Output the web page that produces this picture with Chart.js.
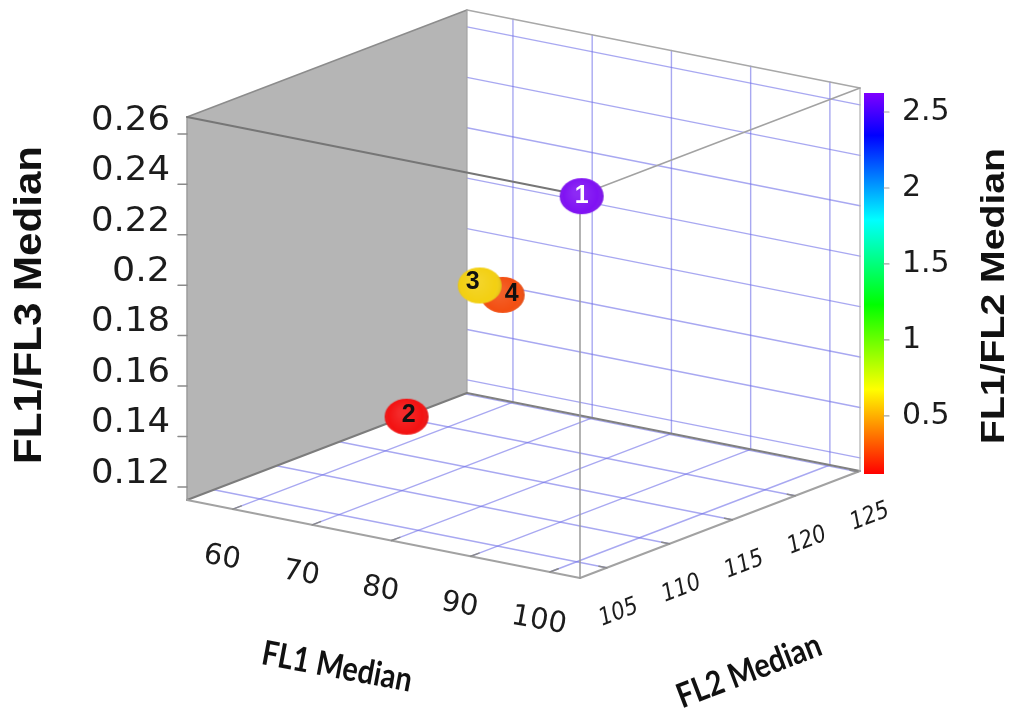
<!DOCTYPE html>
<html>
<head>
<meta charset="utf-8">
<title>FL1 / FL2 / FL3 medians</title>
<script src="https://cdn.jsdelivr.net/npm/chart.js@4.4.1/dist/chart.umd.min.js"></script>
<style>
  html, body { margin: 0; padding: 0; background: #ffffff; overflow: hidden; }
  #wrap { width: 1011px; height: 718px; }
</style>
</head>
<body>
<div id="wrap"><canvas id="chart" width="1011" height="718"></canvas></div>
<script>
// ---- data ----
const sampleIds    = ['1', '2', '3', '4'];
const fl1Median    = [103.8, 54.45, 59.4, 58.7];     // x axis
const fl2Median    = [103.0, 120.2, 122.9, 125.17];  // depth axis
const fl1fl3Median = [0.266, 0.115, 0.165, 0.1565];  // vertical axis
const fl1fl2Median = [2.62, 0.118, 0.59, 0.27];      // colour

// ---- axes ----
const fl1Ticks = [60, 70, 80, 90, 100];
const fl2Ticks = [105, 110, 115, 120, 125];
const zTicks   = [0.12, 0.14, 0.16, 0.18, 0.2, 0.22, 0.24, 0.26];
const cTicks   = [0.5, 1, 1.5, 2, 2.5];

const fl1Range = [54.2, 103.8];
const fl2Range = [102.87, 125.17];
const zRange   = [0.1148, 0.2667];
const cRange   = [0.118, 2.625];

// ---- view: oblique projection of the unit box onto the page ----
const VIEW_W = 1011, VIEW_H = 718;
const VIEW = { o: [187, 500], a: [393, 78], b: [280, -107], c: [0, -383] };
const INTO_SCREEN = [-0.7125, 1, -0.4245];   // direction that projects to a point
const CBAR = { x: 864, w: 20, top: 93, bottom: 474 };

const norm = (v, r) => (v - r[0]) / (r[1] - r[0]);
function viewN(a, b, c) {
  return {
    x: VIEW.o[0] + a * VIEW.a[0] + b * VIEW.b[0] + c * VIEW.c[0],
    y: VIEW.o[1] + a * VIEW.a[1] + b * VIEW.b[1] + c * VIEW.c[1]
  };
}
function depthN(a, b, c) { return a * INTO_SCREEN[0] + b * INTO_SCREEN[1] + c * INTO_SCREEN[2]; }

// rainbow colour map: red (low) -> violet (high)
function cmap(v, sat = 100, light = 50) {
  const t = Math.max(0, Math.min(1, norm(v, cRange)));
  return `hsl(${(270 * t).toFixed(1)}, ${sat}%, ${light}%)`;
}

// sphere-like markers (the page is slightly wider than tall, so they are ellipses)
function markerSprite(color) {
  const c = document.createElement('canvas');
  c.width = 48; c.height = 40;
  const g = c.getContext('2d');
  g.beginPath();
  g.ellipse(24, 20, 22, 18, 0, 0, Math.PI * 2);
  g.fillStyle = color;
  g.fill();
  const rg = g.createRadialGradient(20, 16, 4, 24, 20, 23);
  rg.addColorStop(0, 'rgba(255,255,255,0.10)');
  rg.addColorStop(0.7, 'rgba(255,255,255,0)');
  rg.addColorStop(1, 'rgba(0,0,0,0.12)');
  g.fillStyle = rg;
  g.fill();
  return c;
}

// points, painted far to near
const samples = sampleIds.map((id, i) => {
  const a = norm(fl1Median[i], fl1Range), b = norm(fl2Median[i], fl2Range), c = norm(fl1fl3Median[i], zRange);
  const p = viewN(a, b, c);
  return { id, i, x: p.x, y: p.y, depth: depthN(a, b, c), color: cmap(fl1fl2Median[i], 90, 51) };
}).sort((p, q) => q.depth - p.depth);

const labelStyle = {
  '1': { dx: 0, dy: 0, color: '#ffffff' },
  '2': { dx: 2, dy: -2, color: '#111111' },
  '3': { dx: -7, dy: -3, color: '#111111' },
  '4': { dx: 9, dy: -1, color: '#111111' }
};

// ---- drawing helpers ----
function px(chart, v) {
  return { x: chart.scales.x.getPixelForValue(v.x), y: chart.scales.y.getPixelForValue(v.y) };
}
function seg(ctx, chart, p, q, color, width) {
  const A = px(chart, viewN(...p)), B = px(chart, viewN(...q));
  ctx.beginPath();
  ctx.moveTo(A.x, A.y);
  ctx.lineTo(B.x, B.y);
  ctx.strokeStyle = color;
  ctx.lineWidth = width;
  ctx.stroke();
}
function label(ctx, str, x, y, o) {
  ctx.save();
  ctx.translate(x, y);
  if (o.angle) ctx.rotate(o.angle);
  ctx.font = o.font;
  ctx.fillStyle = o.color || '#1c1c1c';
  ctx.textAlign = o.align || 'center';
  ctx.textBaseline = 'middle';
  if (o.fitW) ctx.scale(o.fitW / ctx.measureText(str).width, 1);
  ctx.fillText(str, 0, 0);
  ctx.restore();
}

const GRID = 'rgba(110,110,232,0.6)';

const boxPlugin = {
  id: 'box3d',
  beforeDatasetsDraw(chart) {
    const ctx = chart.ctx;
    ctx.save();
    ctx.lineCap = 'round';

    // back wall (FL2 = max) grid
    fl1Ticks.forEach(t => { const a = norm(t, fl1Range); seg(ctx, chart, [a, 1, 0], [a, 1, 1], GRID, 1.4); });
    zTicks.forEach(t => { const c = norm(t, zRange); seg(ctx, chart, [0, 1, c], [1, 1, c], GRID, 1.4); });
    // floor grid
    fl1Ticks.forEach(t => { const a = norm(t, fl1Range); seg(ctx, chart, [a, 0, 0], [a, 1, 0], GRID, 1.4); });
    fl2Ticks.forEach(t => { const b = norm(t, fl2Range); seg(ctx, chart, [0, b, 0], [1, b, 0], GRID, 1.4); });

    // side wall (FL1 = min), solid grey
    const wall = [[0, 0, 1], [0, 1, 1], [0, 1, 0], [0, 0, 0]].map(p => px(chart, viewN(...p)));
    ctx.beginPath();
    wall.forEach((p, k) => k ? ctx.lineTo(p.x, p.y) : ctx.moveTo(p.x, p.y));
    ctx.closePath();
    ctx.fillStyle = '#b5b5b5';
    ctx.fill();

    // box edges
    seg(ctx, chart, [0, 0, 0], [0, 0, 1], '#9c9c9c', 1.5);
    seg(ctx, chart, [0, 0, 1], [0, 1, 1], '#8c8c8c', 1.5);
    seg(ctx, chart, [0, 1, 1], [0, 1, 0], '#a4a4a4', 1.2);
    seg(ctx, chart, [0, 0, 0], [0, 1, 0], '#7c7c7c', 2);
    seg(ctx, chart, [0, 1, 1], [1, 1, 1], '#a8a8a8', 1.5);
    seg(ctx, chart, [0, 1, 0], [1, 1, 0], '#808080', 2);
    seg(ctx, chart, [1, 1, 0], [1, 1, 1], '#b0b0b0', 1.2);
    seg(ctx, chart, [0, 0, 0], [1, 0, 0], '#a2a2a2', 2);
    seg(ctx, chart, [1, 0, 0], [1, 1, 0], '#a2a2a2', 2);
    seg(ctx, chart, [0, 0, 1], [1, 0, 1], '#767676', 2);
    seg(ctx, chart, [1, 0, 1], [1, 1, 1], '#a2a2a2', 1.5);
    seg(ctx, chart, [1, 0, 0], [1, 0, 1], '#9a9a9a', 1.5);

    // tick marks
    zTicks.forEach(t => {
      const p = px(chart, viewN(0, 0, norm(t, zRange)));
      ctx.beginPath(); ctx.moveTo(p.x - 9, p.y); ctx.lineTo(p.x, p.y);
      ctx.strokeStyle = '#8a8a8a'; ctx.lineWidth = 1.5; ctx.stroke();
    });
    fl1Ticks.forEach(t => { const a = norm(t, fl1Range); seg(ctx, chart, [a, 0, 0], [a, 0.03, 0], '#8a8a8a', 1.5); });
    fl2Ticks.forEach(t => { const b = norm(t, fl2Range); seg(ctx, chart, [1, b, 0], [0.98, b, 0], '#8a8a8a', 1.5); });

    // tick labels
    zTicks.forEach(t => {
      const p = px(chart, viewN(0, 0, norm(t, zRange)));
      label(ctx, String(t), p.x - 17, p.y - 13, { font: '34px "DejaVu Sans"', align: 'right', fitW: String(t).length > 3 ? 79 : 58 });
    });
    const aAng = Math.atan2(VIEW.a[1], VIEW.a[0]);
    const bAng = Math.atan2(VIEW.b[1], VIEW.b[0]);
    fl1Ticks.forEach(t => {
      const p = px(chart, viewN(norm(t, fl1Range), 0, 0));
      label(ctx, String(t), p.x - 11, p.y + 49, { font: '29px "DejaVu Sans"', angle: aAng * 0.9 });
    });
    fl2Ticks.forEach(t => {
      const p = px(chart, viewN(1, norm(t, fl2Range), 0));
      label(ctx, String(t), p.x + 12, p.y + 45, { font: 'italic 24px "DejaVu Sans"', angle: bAng, fitW: 40 });
    });

    // axis titles
    label(ctx, 'FL1/FL3 Median', 31, 305, { font: 'bold 38px "Liberation Sans"', angle: -Math.PI / 2, fitW: 318, color: '#111' });
    label(ctx, 'FL1 Median', 337, 667, { font: 'bold 34px Lato', angle: aAng * 0.95, fitW: 152, color: '#111' });
    label(ctx, 'FL2 Median', 749, 671, { font: 'bold 34px Lato', angle: bAng, fitW: 152, color: '#111' });

    // colour bar
    const cb0 = px(chart, { x: CBAR.x, y: CBAR.top });
    const cb1 = px(chart, { x: CBAR.x + CBAR.w, y: CBAR.bottom });
    const grad = ctx.createLinearGradient(0, cb1.y, 0, cb0.y);
    for (let k = 0; k <= 18; k++) grad.addColorStop(k / 18, `hsl(${270 * k / 18}, 100%, 50%)`);
    ctx.fillStyle = grad;
    ctx.fillRect(cb0.x, cb0.y, cb1.x - cb0.x, cb1.y - cb0.y);
    cTicks.forEach(t => {
      const y = cb1.y - norm(t, cRange) * (cb1.y - cb0.y);
      ctx.beginPath(); ctx.moveTo(cb1.x, y); ctx.lineTo(cb1.x + 5, y);
      ctx.strokeStyle = '#a0a0a0'; ctx.lineWidth = 1.2; ctx.stroke();
      label(ctx, String(t), cb1.x + 18, y, { font: '30px "DejaVu Sans"', align: 'left' });
    });
    label(ctx, 'FL1/FL2 Median', 995, 296, { font: 'bold 33px "Liberation Sans"', angle: -Math.PI / 2, fitW: 296, color: '#111' });

    ctx.restore();
  },
  afterDatasetsDraw(chart) {
    const ctx = chart.ctx;
    const meta = chart.getDatasetMeta(0);
    meta.data.forEach((el, k) => {
      const s = samples[k], st = labelStyle[s.id];
      label(ctx, s.id, el.x + st.dx, el.y + st.dy, { font: 'bold 25px "Liberation Sans"', color: st.color });
    });
  }
};

new Chart(document.getElementById('chart'), {
  type: 'scatter',
  data: {
    datasets: [{
      label: 'samples',
      data: samples.map(s => ({ x: s.x, y: s.y })),
      pointStyle: samples.map(s => markerSprite(s.color)),
      pointRadius: 22,
      pointHoverRadius: 22,
      clip: false
    }]
  },
  options: {
    responsive: false,
    animation: false,
    devicePixelRatio: 1,
    events: [],
    layout: { autoPadding: false, padding: 0 },
    plugins: { legend: { display: false }, tooltip: { enabled: false } },
    scales: {
      x: { type: 'linear', min: 0, max: VIEW_W, display: false },
      y: { type: 'linear', min: 0, max: VIEW_H, reverse: true, display: false }
    }
  },
  plugins: [boxPlugin]
});
</script>
</body>
</html>
